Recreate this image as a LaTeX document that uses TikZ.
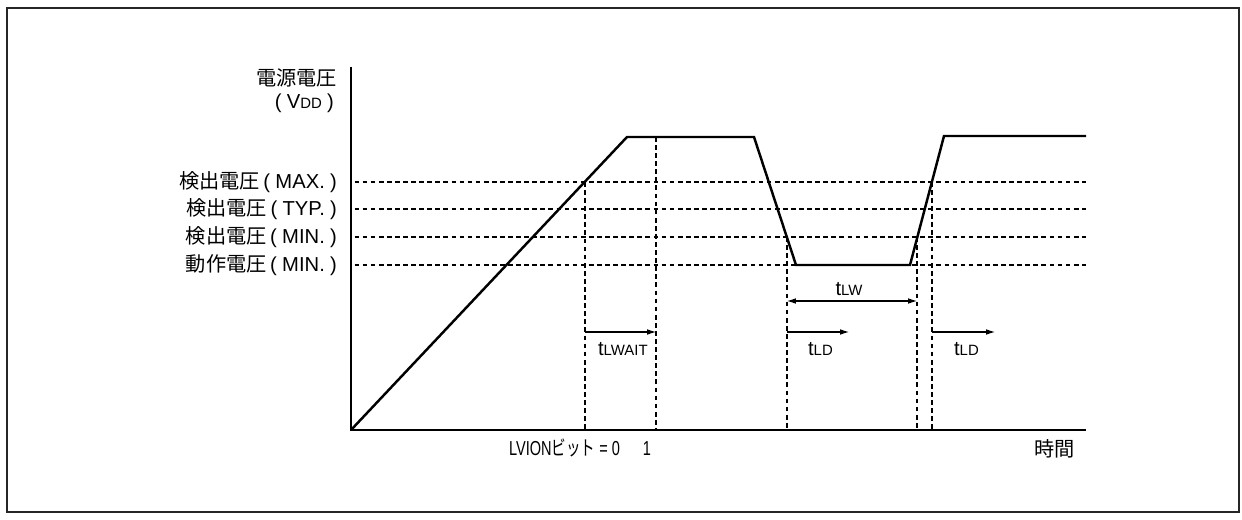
\documentclass[tikz,border=0pt]{standalone}
\usepackage{fontspec}
\setmainfont{Liberation Sans}
\newfontfamily\jpfont{Noto Sans CJK JP}
\usetikzlibrary{arrows.meta, positioning}
\newcommand\subt[1]{{\fontsize{8.5}{9}\selectfont #1}}
\newcommand\paren[1]{\hspace{2pt}(\hspace{3pt}#1\hspace{3pt})}

\begin{document}
\begin{tikzpicture}[x=0.02cm, y=-0.02cm, font=\fontsize{11.5}{13}\selectfont, >={Latex[length=5pt,width=3.2pt]}]
      \tikzset{
        signal/.style={line width=1.4pt, line join=miter},
        guide/.style={line width=0.6pt, dash pattern=on 2.7pt off 1.9pt},
        dim/.style={line width=0.6pt},
        lbl/.style={inner sep=1pt}
      }
      \useasboundingbox (0,0) rectangle (1242,520);
      % outer frame
      \draw[line width=0.9pt, black!85] (7,8) rectangle (1239,512);
      % axes
      \coordinate (o) at (351,430);
      \coordinate (ytop) at (351,67);
      \coordinate (xend) at (1086,430);
      \draw[line width=1.4pt] (ytop) -- (o) -- (xend);
      \node[lbl, anchor=east] (vdd) at (339,78) {\jpfont 電源電圧};
      \node[lbl, anchor=east] (vddsym) at (336,103) {\paren{V\subt{DD}}};
      \node[lbl, anchor=east] (time) at (1077,449) {\jpfont 時間};
      % voltage levels
      \node[lbl, anchor=east] (lmax) at (339,182) {{\jpfont 検出電圧}\paren{MAX.}};
      \node[lbl, anchor=east] (ltyp) at (339,209) {{\jpfont 検出電圧}\paren{TYP.}};
      \node[lbl, anchor=east] (lmin) at (339,237) {{\jpfont 検出電圧}\paren{MIN.}};
      \node[lbl, anchor=east] (lop) at (339,265) {{\jpfont 動作電圧}\paren{MIN.}};
      \foreach \l in {lmax,ltyp,lmin,lop}
        \draw[guide] ([xshift=2]\l -| o) -- (\l -| xend);
      % supply voltage curve
      \coordinate (p1) at (627,137);
      \coordinate (p2) at (754,137);
      \coordinate (p3) at (796,265);
      \coordinate (p4) at (910,265);
      \coordinate (p5) at (944,136);
      \coordinate (p6) at (1086,136);
      \draw[signal] (o) -- (p1) -- (p2) -- (p3) -- (p4) -- (p5) -- (p6);
      % crossing points
      \coordinate (c1) at (585,182);
      \coordinate (c2) at (656,137);
      \coordinate (c3) at (787,237);
      \coordinate (c4) at (917,237);
      \coordinate (c5) at (932,182);
      \foreach \c in {c1,c2,c3,c4,c5}
        \draw[guide] (\c) -- (\c |- o);
      % timing arrows
      \coordinate (row) at (0,332);
      \coordinate (ld1) at (849,332);
      \coordinate (ld2) at (995,332);
      \draw[dim,->] (c1 |- row) -- (c2 |- row);
      \draw[dim,->] (c3 |- row) -- (ld1);
      \draw[dim,->] (c5 |- row) -- (ld2);
      \draw[dim,<->] (c3 |- 0,301) -- (c4 |- 0,301);
      \node[lbl] (tlw) at (849,289) {t\subt{LW}};
      \node[lbl, anchor=west] (twait) at (596,349) {t\subt{LWAIT}};
      \node[lbl, anchor=west] (tld1) at (806,349) {t\subt{LD}};
      \node[lbl, anchor=west] (tld2) at (952,349) {t\subt{LD}};
      % control bit
      \node[lbl, anchor=west] (bit) at (507,448)
        {\scalebox{0.72}[1]{LVION{\jpfont ビット} = 0\hspace{18pt}1}};
    \end{tikzpicture}
\end{document}
